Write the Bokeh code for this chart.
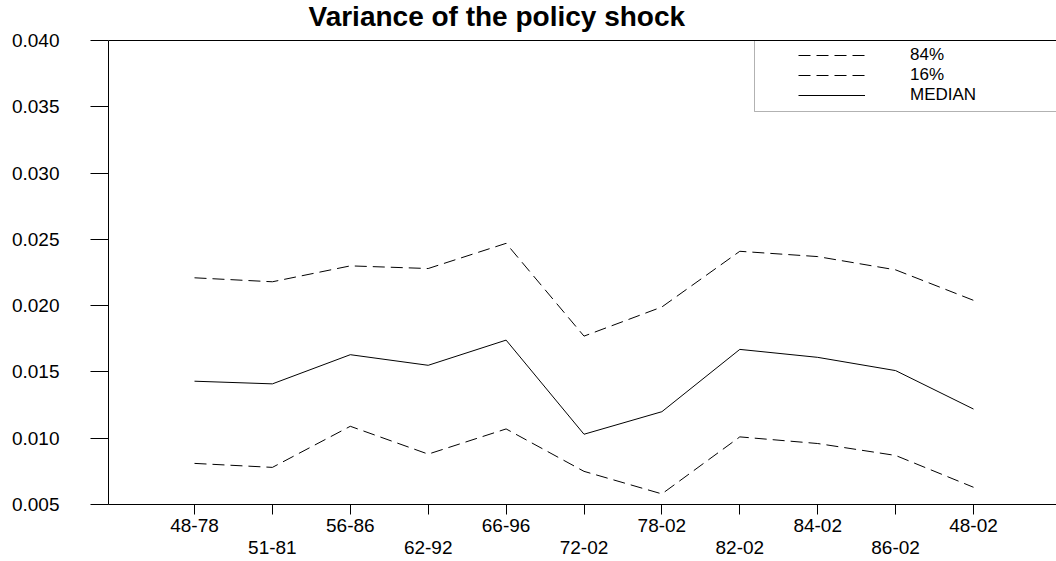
from bokeh.plotting import figure
from bokeh.models import (Range1d, FixedTicker, NumeralTickFormatter, Legend,
                          LegendItem, BoxAnnotation, Span, Label)
from bokeh.embed import file_html
from bokeh.resources import INLINE

# ---------------- data ----------------
periods = ["48-78", "51-81", "56-86", "62-92", "66-96", "72-02",
           "78-02", "82-02", "84-02", "86-02", "48-02"]
q84 = [0.0221, 0.0218, 0.0230, 0.0228, 0.0247, 0.0177,
       0.0199, 0.0241, 0.0237, 0.0227, 0.0204]
q16 = [0.0081, 0.0078, 0.0109, 0.0088, 0.0107, 0.0075,
       0.0058, 0.0101, 0.0096, 0.0087, 0.0063]
median = [0.0143, 0.0141, 0.0163, 0.0155, 0.0174, 0.0103,
          0.0120, 0.0167, 0.0161, 0.0151, 0.0122]
y_ticks = [0.005, 0.010, 0.015, 0.020, 0.025, 0.030, 0.035, 0.040]
legend_labels = ["84%", "16%", "MEDIAN"]
title_text = "Variance of the policy shock"

# ---------------- layout constants ----------------
FONT = "Liberation Sans"
W, H = 1056, 561
FRAME_L = 108
AXIS_TOP = 40          # px where the 0.040 tick sits (frame itself reaches the canvas top)
FRAME_B = 504
FRAME_W = W - FRAME_L
FRAME_H = FRAME_B            # frame from 0 to FRAME_B
STEP = 77.9            # px between categories
FIRST = 194            # px of first category
x_start = -(FIRST - FRAME_L) / STEP
x_end = x_start + FRAME_W / STEP
y_lo, y_hi = y_ticks[0], y_ticks[-1]
px_per_y = (FRAME_B - AXIS_TOP) / (y_hi - y_lo)
y_range_end = y_hi + AXIS_TOP / px_per_y

xs = list(range(len(periods)))

p = figure(width=W, height=H, output_backend="svg", toolbar_location=None,
           title=None,
           x_range=Range1d(x_start, x_end), y_range=Range1d(y_lo, y_range_end),
           min_border_left=FRAME_L, min_border_right=0,
           min_border_top=0, min_border_bottom=H - FRAME_B)
p.outline_line_color = None
p.grid.visible = False
p.background_fill_color = "white"
p.border_fill_color = "white"

# title drawn inside the (tall) frame, above the axes box
p.add_layout(Label(x=200, y=FRAME_H - 15.5, x_units="screen", y_units="screen",
                   text=title_text, text_font=FONT, text_font_style="bold",
                   text_font_size="28px", text_color="black",
                   text_baseline="alphabetic", text_align="left"))

# y axis
ya = p.yaxis[0]
ya.bounds = (y_lo, y_hi)
ya.ticker = FixedTicker(ticks=y_ticks)
ya.formatter = NumeralTickFormatter(format="0.000")
ya.major_tick_out = 18
ya.major_tick_in = 0
ya.minor_tick_out = 0
ya.minor_tick_in = 0
ya.major_label_standoff = 31
ya.major_label_text_font = FONT
ya.major_label_text_font_size = "19px"
ya.major_label_text_color = "black"
ya.axis_line_color = "black"
ya.major_tick_line_color = "black"

# x axis
xa = p.xaxis[0]
xa.ticker = FixedTicker(ticks=xs)
xa.major_label_overrides = {i: (lab if i % 2 == 0 else "\n" + lab)
                            for i, lab in enumerate(periods)}
xa.major_tick_out = 10
xa.major_tick_in = 0
xa.minor_tick_out = 0
xa.minor_tick_in = 0
xa.major_label_standoff = 0
xa.major_label_text_font = FONT
xa.major_label_text_font_size = "19px"
xa.major_label_text_line_height = 1.05
xa.major_label_text_color = "black"
xa.axis_line_color = "black"
xa.major_tick_line_color = "black"

# top line of the axes box
p.add_layout(Span(location=y_hi, dimension="width", line_color="black", line_width=1))

# series
r84 = p.line(xs, q84, line_color="black", line_width=1, line_dash="12 6")
r16 = p.line(xs, q16, line_color="black", line_width=1, line_dash="12 6")
rmed = p.line(xs, median, line_color="black", line_width=1)

# legend box (border)
box_left_px = 754 - FRAME_L          # px from frame left
box_bottom_px = 111 - AXIS_TOP       # px below the top line
p.add_layout(BoxAnnotation(left=x_start + box_left_px / STEP, right=x_end + 5,
                           top=y_hi, bottom=y_hi - box_bottom_px / px_per_y,
                           fill_alpha=0, line_color="black", line_width=1))

legend = Legend(items=[LegendItem(label=legend_labels[0], renderers=[r84]),
                       LegendItem(label=legend_labels[1], renderers=[r16]),
                       LegendItem(label=legend_labels[2], renderers=[rmed])],
                location=(690, FRAME_B - 45 - 60), padding=0, margin=0, spacing=0,
                glyph_width=67, glyph_height=20, label_height=20,
                label_standoff=45, label_text_font=FONT,
                label_text_font_size="17px", label_text_color="black",
                border_line_alpha=0, background_fill_alpha=0)
p.add_layout(legend, "center")

open("out.html", "w").write(file_html(p, INLINE))
